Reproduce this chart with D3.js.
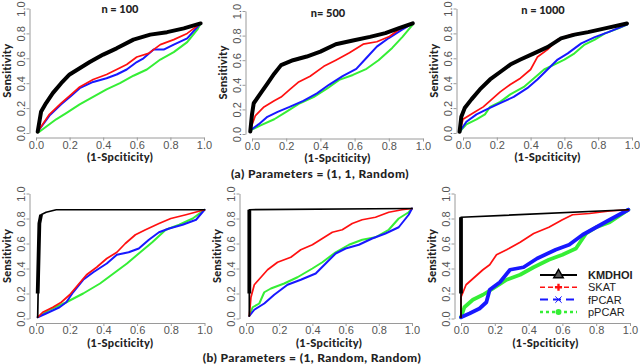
<!DOCTYPE html>
<html><head><meta charset="utf-8">
<script src="https://cdn.jsdelivr.net/npm/d3@7"></script>
<style>body{margin:0;background:#fff} svg{display:block}</style>
</head><body>
<script>
// ---------- DATA ----------
const tickValues = [0, 0.2, 0.4, 0.6, 0.8, 1.0];
const panelTitles = ["n = 100", "n= 500", "n = 1000", "", "", ""];
const captions = ["(a) Parameters = (1, 1, Random)", "(b) Parameters = (1, Random, Random)"];
const seriesNames = ["KMDHOI", "SKAT", "fPCAR", "pPCAR"];
const xTitle = "(1-Spciticity)";
const yTitle = "Sensitivity";

// Panel 1 (n = 100, row a)
const p1KMDHOI = [[0.01,0.01],[0.03,0.17],[0.06,0.24],[0.10,0.32],[0.15,0.40],[0.20,0.47],[0.26,0.52],[0.32,0.57],[0.40,0.63],[0.48,0.68],[0.58,0.75],[0.68,0.79],[0.78,0.81],[0.88,0.84],[0.98,0.88]];
const p1SKAT = [[0.01,0.01],[0.08,0.15],[0.15,0.24],[0.21,0.31],[0.26,0.37],[0.34,0.43],[0.42,0.47],[0.48,0.51],[0.54,0.55],[0.60,0.61],[0.67,0.64],[0.74,0.71],[0.82,0.75],[0.90,0.80],[0.98,0.88]];
const p1fPCAR = [[0.01,0.01],[0.08,0.14],[0.15,0.23],[0.21,0.30],[0.26,0.36],[0.34,0.41],[0.42,0.44],[0.48,0.47],[0.54,0.51],[0.60,0.57],[0.64,0.60],[0.70,0.67],[0.76,0.67],[0.82,0.71],[0.90,0.76],[0.98,0.88]];
const p1pPCAR = [[0.02,0.01],[0.06,0.05],[0.12,0.11],[0.18,0.16],[0.26,0.23],[0.34,0.29],[0.42,0.35],[0.50,0.40],[0.58,0.46],[0.66,0.51],[0.74,0.59],[0.82,0.65],[0.90,0.73],[0.96,0.83],[0.98,0.88]];

// Panel 2 (n = 500, row a)
const p2KMDHOI = [[-0.01,0.02],[0.0,0.16],[0.01,0.25],[0.05,0.33],[0.09,0.41],[0.13,0.49],[0.17,0.56],[0.24,0.60],[0.32,0.63],[0.40,0.67],[0.49,0.73],[0.59,0.76],[0.69,0.79],[0.78,0.82],[0.86,0.86],[0.94,0.90]];
const p2SKAT = [[-0.01,0.04],[0.02,0.15],[0.07,0.22],[0.13,0.27],[0.17,0.30],[0.22,0.36],[0.27,0.42],[0.34,0.47],[0.42,0.55],[0.49,0.60],[0.57,0.66],[0.65,0.73],[0.73,0.75],[0.80,0.79],[0.86,0.85],[0.94,0.90]];
const p2fPCAR = [[-0.01,0.03],[0.04,0.08],[0.09,0.14],[0.15,0.18],[0.22,0.22],[0.30,0.27],[0.38,0.33],[0.45,0.40],[0.53,0.47],[0.61,0.53],[0.67,0.62],[0.73,0.71],[0.80,0.78],[0.88,0.85],[0.94,0.90]];
const p2pPCAR = [[-0.01,0.03],[0.05,0.07],[0.13,0.12],[0.20,0.18],[0.28,0.25],[0.36,0.30],[0.44,0.37],[0.51,0.44],[0.59,0.48],[0.67,0.53],[0.74,0.60],[0.82,0.70],[0.88,0.79],[0.94,0.89]];

// Panel 3 (n = 1000, row a)
const p3KMDHOI = [[-0.02,0.01],[-0.01,0.13],[0.01,0.20],[0.05,0.27],[0.10,0.35],[0.16,0.43],[0.22,0.49],[0.28,0.55],[0.34,0.59],[0.42,0.64],[0.50,0.69],[0.58,0.76],[0.66,0.79],[0.74,0.81],[0.84,0.84],[0.97,0.88]];
const p3SKAT = [[-0.02,0.01],[0.0,0.11],[0.06,0.16],[0.12,0.21],[0.17,0.27],[0.22,0.33],[0.28,0.39],[0.34,0.44],[0.40,0.51],[0.44,0.61],[0.50,0.67],[0.56,0.75],[0.64,0.79],[0.74,0.81],[0.84,0.84],[0.97,0.88]];
const p3fPCAR = [[-0.02,0.01],[0.02,0.09],[0.08,0.15],[0.14,0.19],[0.22,0.24],[0.30,0.29],[0.38,0.36],[0.44,0.43],[0.50,0.51],[0.56,0.59],[0.62,0.64],[0.70,0.72],[0.78,0.77],[0.86,0.81],[0.97,0.87]];
const p3pPCAR = [[-0.02,0.01],[0.02,0.07],[0.08,0.11],[0.13,0.15],[0.16,0.21],[0.22,0.25],[0.28,0.31],[0.36,0.37],[0.42,0.44],[0.48,0.51],[0.54,0.55],[0.60,0.59],[0.66,0.64],[0.72,0.71],[0.78,0.75],[0.84,0.80],[0.92,0.84],[0.97,0.87]];

// Panel 4 (row b, left)
const p4KMDHOI = [[0.01,0.01],[0.02,0.76],[0.03,0.83],[0.06,0.85],[0.12,0.87],[0.50,0.87],[1.0,0.87]];
const p4SKAT = [[0.01,0.01],[0.04,0.05],[0.10,0.09],[0.15,0.13],[0.20,0.19],[0.25,0.27],[0.30,0.35],[0.36,0.41],[0.42,0.48],[0.48,0.53],[0.53,0.60],[0.59,0.67],[0.65,0.71],[0.73,0.76],[0.80,0.80],[0.89,0.83],[1.0,0.87]];
const p4fPCAR = [[0.01,0.01],[0.06,0.04],[0.14,0.09],[0.18,0.13],[0.22,0.21],[0.28,0.31],[0.34,0.37],[0.42,0.44],[0.48,0.51],[0.55,0.53],[0.61,0.56],[0.67,0.63],[0.73,0.69],[0.79,0.72],[0.87,0.75],[0.95,0.79],[1.0,0.87]];
const p4pPCAR = [[0.01,0.01],[0.08,0.07],[0.18,0.13],[0.28,0.20],[0.38,0.28],[0.46,0.36],[0.54,0.44],[0.61,0.52],[0.69,0.61],[0.77,0.71],[0.85,0.75],[0.93,0.80],[1.0,0.87]];

// Panel 5 (row b, middle)
const p5KMDHOI = [[0.02,0.02],[0.02,0.87],[1.0,0.88]];
const p5SKAT = [[0.02,0.02],[0.03,0.17],[0.05,0.27],[0.09,0.33],[0.13,0.39],[0.19,0.45],[0.27,0.49],[0.33,0.55],[0.40,0.59],[0.46,0.64],[0.52,0.69],[0.58,0.71],[0.64,0.76],[0.70,0.79],[0.78,0.81],[0.86,0.85],[0.94,0.87],[1.0,0.88]];
const p5fPCAR = [[0.02,0.02],[0.05,0.07],[0.11,0.12],[0.17,0.19],[0.25,0.27],[0.33,0.31],[0.42,0.36],[0.48,0.44],[0.54,0.52],[0.60,0.56],[0.68,0.59],[0.76,0.64],[0.84,0.68],[0.92,0.73],[0.98,0.83],[1.0,0.88]];
const p5pPCAR = [[0.02,0.02],[0.04,0.09],[0.08,0.12],[0.11,0.21],[0.15,0.24],[0.23,0.28],[0.31,0.33],[0.40,0.40],[0.46,0.45],[0.54,0.53],[0.62,0.59],[0.70,0.63],[0.78,0.65],[0.86,0.71],[0.92,0.80],[0.98,0.85],[1.0,0.88]];

// Panel 6 (row b, right)
const p6KMDHOI = [[0.0,0.01],[0.0,0.81],[0.99,0.87]];
const p6SKAT = [[0.0,0.01],[0.0,0.17],[0.03,0.27],[0.08,0.33],[0.13,0.39],[0.17,0.43],[0.21,0.51],[0.27,0.55],[0.35,0.61],[0.43,0.68],[0.52,0.73],[0.60,0.79],[0.66,0.83],[0.76,0.84],[0.88,0.86],[0.99,0.87]];
const p6fPCAR = [[0.0,0.01],[0.05,0.04],[0.11,0.08],[0.15,0.13],[0.17,0.23],[0.23,0.29],[0.29,0.39],[0.37,0.41],[0.45,0.48],[0.56,0.55],[0.64,0.59],[0.72,0.67],[0.80,0.73],[0.88,0.79],[0.99,0.87]];
const p6pPCAR = [[0.0,0.01],[0.02,0.09],[0.07,0.15],[0.13,0.19],[0.19,0.24],[0.27,0.31],[0.35,0.35],[0.43,0.41],[0.52,0.47],[0.60,0.51],[0.68,0.56],[0.74,0.68],[0.80,0.73],[0.88,0.77],[0.99,0.87]];

const panelData = [
  [p1KMDHOI, p1SKAT, p1fPCAR, p1pPCAR],
  [p2KMDHOI, p2SKAT, p2fPCAR, p2pPCAR],
  [p3KMDHOI, p3SKAT, p3fPCAR, p3pPCAR],
  [p4KMDHOI, p4SKAT, p4fPCAR, p4pPCAR],
  [p5KMDHOI, p5SKAT, p5fPCAR, p5pPCAR],
  [p6KMDHOI, p6SKAT, p6fPCAR, p6pPCAR]
];

// ---------- LAYOUT / STYLE ----------
const W = 640, H = 364;
const layout = [
  {x0:36,  x1:204,   y0:133,   y1:8.5,   tx:120, ty:13},
  {x0:252, x1:423,   y0:134,   y1:11,    tx:328, ty:16.5},
  {x0:463, x1:632,   y0:133,   y1:8.5,   tx:543, ty:14},
  {x0:36,  x1:204.5, y0:318.5, y1:193.5, tx:120, ty:190},
  {x0:246, x1:412,   y0:318.5, y1:193.5, tx:330, ty:190},
  {x0:461, x1:630,   y0:318.5, y1:193.5, tx:545, ty:190}
];
const colors = ["#000000", "#ff1010", "#1818ff", "#35ee35"];
const widthsTop = [4, 1.7, 2, 2];
const widthsBottom = [1.7, 1.7, 2, 2];
const widthsP6 = [1.7, 1.7, 3.8, 3.8];
const axisColor = "#9a9a9a";
const tickText = "#555";
const titleFont = "Lato, 'Open Sans', sans-serif";
const tickFont = "'Liberation Sans', Arial, sans-serif";

const svg = d3.select("body").append("svg").attr("width", W).attr("height", H)
  .style("background", "#fff");

panelData.forEach((series, i) => {
  const L = layout[i];
  const xs = d3.scaleLinear().domain([0, 1]).range([L.x0, L.x1]);
  const ys = d3.scaleLinear().domain([0, 1]).range([L.y0, L.y1]);
  const axisX = L.x0 - 6.5, axisY = L.y0 + 4.5;
  const g = svg.append("g");

  const gx = g.append("g").attr("transform", `translate(0,${axisY})`)
    .call(d3.axisBottom(xs).tickValues(tickValues).tickFormat(d3.format(".1f")).tickSize(3).tickSizeOuter(0).tickPadding(0.5));
  const gy = g.append("g").attr("transform", `translate(${axisX},0)`)
    .call(d3.axisLeft(ys).tickValues(tickValues).tickFormat(d3.format(".1f")).tickSize(3).tickSizeOuter(0));
  [gx, gy].forEach(a => {
    a.select(".domain").attr("stroke", axisColor).attr("stroke-width", 1);
    a.selectAll(".tick line").attr("stroke", axisColor);
    a.selectAll("text").attr("fill", tickText).style("font-family", tickFont).style("font-size", "11px");
  });
  gy.selectAll("text").attr("transform", "rotate(-90)").attr("x", 0).attr("y", -5).attr("dy", "0").attr("text-anchor", "middle");

  g.append("text").attr("x", xs(0.5)).attr("y", axisY + 23.5).attr("text-anchor", "middle")
    .style("font-family", titleFont).style("font-weight", "900").style("font-size", "11px")
    .style("letter-spacing", "0.3px").attr("fill", "#222").text(xTitle);
  g.append("text").attr("transform", `translate(${axisX - 19},${ys(0.5)}) rotate(-90)`).attr("text-anchor", "middle")
    .style("font-family", titleFont).style("font-weight", "900").style("font-size", "11px")
    .style("letter-spacing", "0.2px").attr("fill", "#222").text(yTitle);

  if (panelTitles[i]) {
    g.append("text").attr("x", L.tx).attr("y", L.ty).attr("text-anchor", "middle")
      .style("font-family", titleFont).style("font-weight", "900").style("font-size", "11px")
      .attr("fill", "#222").text(panelTitles[i]);
  }

  const line = d3.line().x(d => xs(d[0])).y(d => ys(d[1]));
  const widths = i < 3 ? widthsTop : (i === 5 ? widthsP6 : widthsBottom);
  [3, 2, 1, 0].forEach(k => {
    g.append("path").datum(series[k]).attr("d", line)
      .attr("fill", "none").attr("stroke", colors[k]).attr("stroke-width", widths[k])
      .attr("stroke-linejoin", "round").attr("stroke-linecap", "round");
  });
  if (i >= 3) {
    const vert = series[0].filter(d => d[0] <= 0.03);
    const start = [vert[0][0], 0.2];
    const seg = [start].concat(vert.filter(d => d[1] > 0.2));
    g.append("path").datum(seg).attr("d", line).attr("fill", "none")
      .attr("stroke", "#000").attr("stroke-width", 3.8).attr("stroke-linecap", "butt");
  }
});

svg.append("text").attr("x", 320).attr("y", 178).attr("text-anchor", "middle")
  .style("font-family", titleFont).style("font-weight", "900").style("font-size", "12px")
  .style("letter-spacing", "0.4px").attr("fill", "#222").text(captions[0]);
svg.append("text").attr("x", 312).attr("y", 362).attr("text-anchor", "middle")
  .style("font-family", titleFont).style("font-weight", "900").style("font-size", "12px")
  .style("letter-spacing", "0.4px").attr("fill", "#222").text(captions[1]);

const legendDash = [null, "5,3", "8,5", "3,3"];
const legendW = [2, 1.6, 2, 2.5];
const lg = svg.append("g");
seriesNames.forEach((name, k) => {
  const ly = 275 + k * 12.3;
  lg.append("line").attr("x1", 540).attr("x2", 577).attr("y1", ly).attr("y2", ly)
    .attr("stroke", colors[k]).attr("stroke-width", legendW[k])
    .attr("stroke-dasharray", legendDash[k]);
  const sym = [d3.symbolTriangle, d3.symbolCross, d3.symbolX, d3.symbolCircle][k];
  const p = lg.append("path").attr("transform", `translate(558.5,${ly})`)
    .attr("d", d3.symbol().type(sym).size(k === 0 ? 40 : 28)());
  if (k === 0) p.attr("fill", "#555").attr("stroke", "#000").attr("stroke-width", 1.4);
  else if (k === 2) p.attr("fill", colors[k]).attr("stroke", colors[k]).attr("stroke-width", 1);
  else p.attr("fill", colors[k]);
  lg.append("text").attr("x", 588).attr("y", ly + 4)
    .style("font-family", tickFont).style("font-size", "11px")
    .style("font-weight", k === 0 ? "bold" : "normal").attr("fill", "#222").text(name);
});
</script>
</body></html>
